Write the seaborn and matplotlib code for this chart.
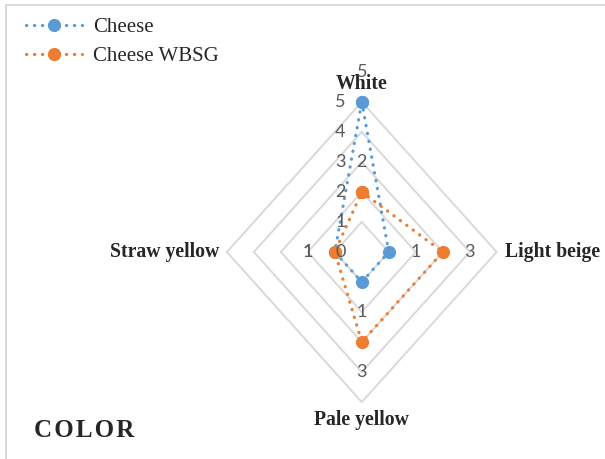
import numpy as np
import pandas as pd
import matplotlib.pyplot as plt
import seaborn as sns
from matplotlib.lines import Line2D

categories = ["White", "Light beige", "Pale yellow", "Straw yellow"]
cheese = [5, 1, 1, 1]
cheese_wbsg = [2, 3, 3, 1]
series_names = ["Cheese", "Cheese WBSG"]
series_colors = ["#5B9BD5", "#ED7D31"]
grid_levels = [1, 2, 3, 4, 5]
tick_labels = ["0", "1", "2", "3", "4", "5"]

# clockwise from top
angles = np.arange(len(categories)) * 2 * np.pi / len(categories)
ux, uy = np.sin(angles), np.cos(angles)

sns.set_style("white")
serif = ["Liberation Serif", "DejaVu Serif"]
sans = ["Lato", "DejaVu Sans"]
num_color = "#595959"
dots = (0, (0.1, 2.4))

fig = plt.figure(figsize=(6.05, 4.59), dpi=100)
ax = fig.add_axes([0.375, 0.124, 0.446, 0.654])
ax.set_xlim(-5, 5)
ax.set_ylim(-5, 5)
ax.axis("off")

# grid diamonds
for lv in grid_levels:
    gx = np.append(ux * lv, ux[0] * lv)
    gy = np.append(uy * lv, uy[0] * lv)
    ax.plot(gx, gy, color="#D9D9D9", linewidth=1.4, zorder=1, clip_on=False)

handles = []
for name, vals, color in zip(series_names, [cheese, cheese_wbsg], series_colors):
    v = np.array(vals, dtype=float)
    df = pd.DataFrame({"x": np.append(ux * v, ux[0] * v[0]),
                       "y": np.append(uy * v, uy[0] * v[0])})
    sns.lineplot(data=df, x="x", y="y", sort=False, estimator=None, color=color,
                 linewidth=2.3, linestyle=dots, marker="o", markersize=9.5,
                 markeredgewidth=0, legend=False, ax=ax, zorder=3, clip_on=False)
    ax.lines[-1].set_dash_capstyle("round")
    handles.append(Line2D([], [], color=color, linewidth=2.3, linestyle=dots,
                          dash_capstyle="round", marker="o", markersize=9.5,
                          markeredgewidth=0))
    # data labels, one unit outward along each axis
    for i, val in enumerate(vals):
        ax.text(ux[i] * (val + 1), uy[i] * (val + 1), str(val), ha="center",
                va="center", fontsize=13, color=num_color, family=sans, zorder=4)

# radial tick labels along the vertical axis
for r, lab in enumerate(tick_labels):
    ax.text(-0.8, r, lab, ha="center", va="center", fontsize=13,
            color=num_color, family=sans, zorder=4)

# category labels
lab_kw = dict(fontsize=14.2, fontweight="bold", family=serif, va="center")
ax.text(0, 5.6, categories[0], ha="center", **lab_kw)
ax.text(5.3, 0, categories[1], ha="left", **lab_kw)
ax.text(0, -5.6, categories[2], ha="center", **lab_kw)
ax.text(-5.3, 0, categories[3], ha="right", **lab_kw)

fig.legend(handles, series_names, loc="upper left", bbox_to_anchor=(0.012, 1.003),
           frameon=False, handlelength=2.7, labelspacing=0.45, handletextpad=0.5,
           prop={"family": serif, "size": 15})

fig.text(0.057, 0.062, "C\u200aO\u200aL\u200aO\u200aR", fontsize=18, fontweight="bold",
         family=serif, ha="left", va="center")

# chart frame: only the left and top edges show
fig.lines.append(Line2D([6 / 605, 6 / 605, 1], [0, 1 - 5 / 459, 1 - 5 / 459],
                        transform=fig.transFigure, color="#D9D9D9", linewidth=1.4))

fig.savefig("out.png", dpi=100)
